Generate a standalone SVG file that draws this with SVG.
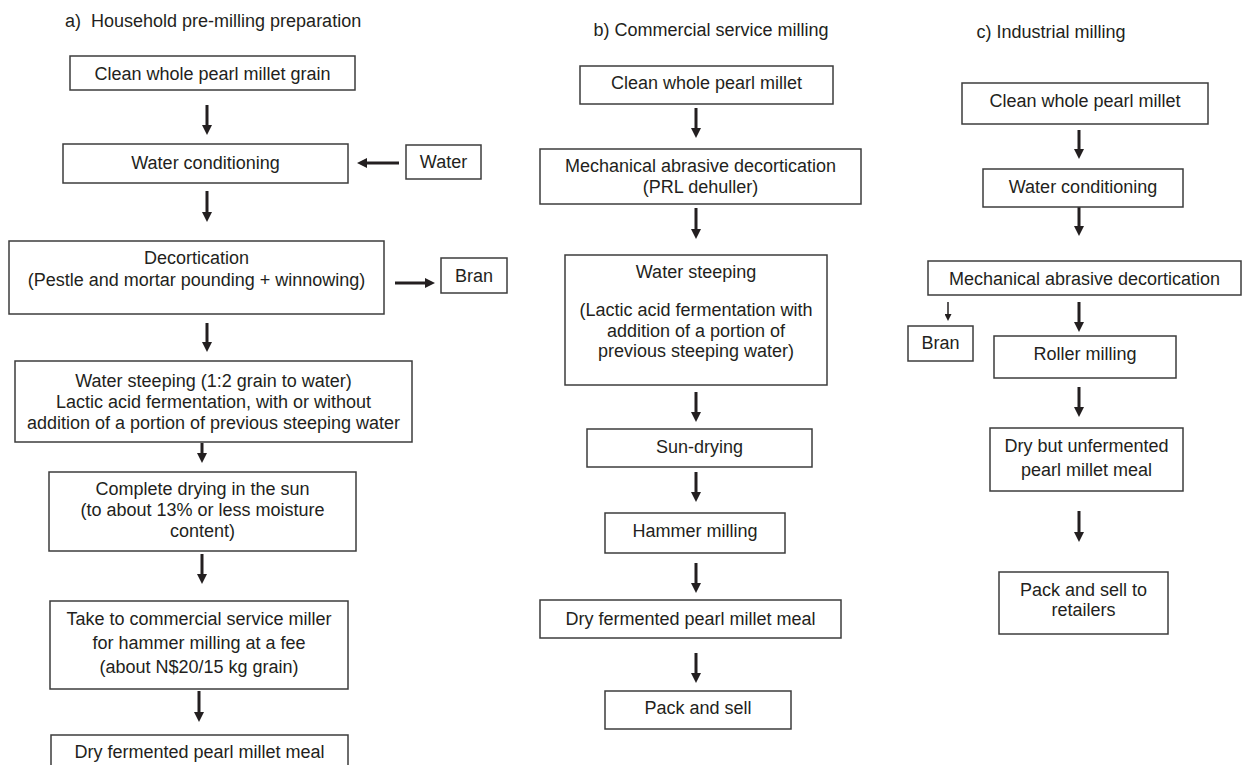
<svg xmlns="http://www.w3.org/2000/svg" width="1242" height="765" viewBox="0 0 1242 765">
<style>
  text{font-family:"Liberation Sans",Arial,sans-serif;font-size:18px;fill:#231f20;text-anchor:middle}
  .t{text-anchor:start}
  rect{fill:#fff;stroke:#3c3c3c;stroke-width:1.5}
  .c line{stroke:#231f20;stroke-width:3}
  .c line.s{stroke-width:1.5}
</style>
<defs>
  <marker id="ah" viewBox="0 0 10 10" markerWidth="10" markerHeight="10" markerUnits="userSpaceOnUse" refX="0" refY="5" orient="auto">
    <path d="M0,0 L10,5 L0,10 z" fill="#231f20"/>
  </marker>
  <marker id="ahs" viewBox="0 0 7 7" markerWidth="7" markerHeight="7" markerUnits="userSpaceOnUse" refX="0" refY="3.5" orient="auto">
    <path d="M0,0 L7,3.5 L0,7 z" fill="#231f20"/>
  </marker>
</defs>
<rect x="0" y="0" width="1242" height="765" style="fill:#fff;stroke:none"/>

<g id="titles">
  <text class="t" x="65" y="27" xml:space="preserve">a)  Household pre-milling preparation</text>
  <text x="711" y="36">b) Commercial service milling</text>
  <text x="1051" y="38">c) Industrial milling</text>
</g>

<g class="c" id="connectors">
  <line x1="207" y1="105" x2="207" y2="125" marker-end="url(#ah)"/>
  <line x1="207" y1="191" x2="207" y2="212" marker-end="url(#ah)"/>
  <line x1="399" y1="163" x2="367" y2="163" marker-end="url(#ah)"/>
  <line x1="395" y1="283" x2="425" y2="283" marker-end="url(#ah)"/>
  <line x1="207" y1="323" x2="207" y2="342" marker-end="url(#ah)"/>
  <line x1="202" y1="443" x2="202" y2="453" marker-end="url(#ah)"/>
  <line x1="202" y1="554" x2="202" y2="574" marker-end="url(#ah)"/>
  <line x1="199" y1="691" x2="199" y2="712" marker-end="url(#ah)"/>

  <line x1="696" y1="108" x2="696" y2="128" marker-end="url(#ah)"/>
  <line x1="696" y1="208" x2="696" y2="229" marker-end="url(#ah)"/>
  <line x1="696" y1="392" x2="696" y2="412" marker-end="url(#ah)"/>
  <line x1="696" y1="472" x2="696" y2="492" marker-end="url(#ah)"/>
  <line x1="696" y1="563" x2="696" y2="583" marker-end="url(#ah)"/>
  <line x1="696" y1="653" x2="696" y2="673" marker-end="url(#ah)"/>

  <line x1="1079" y1="130" x2="1079" y2="149" marker-end="url(#ah)"/>
  <line x1="1079" y1="206" x2="1079" y2="226" marker-end="url(#ah)"/>
  <line x1="1079" y1="302" x2="1079" y2="322" marker-end="url(#ah)"/>
  <line x1="1079" y1="387" x2="1079" y2="407" marker-end="url(#ah)"/>
  <line x1="1079" y1="511" x2="1079" y2="532" marker-end="url(#ah)"/>
  <line class="s" x1="948" y1="302" x2="948" y2="314" marker-end="url(#ahs)"/>
</g>

<g id="a1"><rect x="70" y="56" width="285" height="34"/><text x="212.5" y="80">Clean whole pearl millet grain</text></g>
<g id="a2"><rect x="63" y="144" width="285" height="39"/><text x="205.5" y="169">Water conditioning</text></g>
<g id="a-water"><rect x="406" y="145" width="75" height="34"/><text x="443.5" y="168">Water</text></g>
<g id="a3"><rect x="9" y="241" width="375" height="73"/><text x="196.5" y="264">Decortication</text><text x="196.5" y="286">(Pestle and mortar pounding + winnowing)</text></g>
<g id="a-bran"><rect x="441" y="258" width="66" height="35"/><text x="474" y="282">Bran</text></g>
<g id="a4"><rect x="15" y="361" width="397" height="81"/><text x="213.5" y="387">Water steeping (1:2 grain to water)</text><text x="213.5" y="408">Lactic acid fermentation, with or without</text><text x="213.5" y="429">addition of a portion of previous steeping water</text></g>
<g id="a5"><rect x="49" y="472" width="307" height="79"/><text x="202.5" y="495">Complete drying in the sun</text><text x="202.5" y="516">(to about 13% or less moisture</text><text x="202.5" y="537">content)</text></g>
<g id="a6"><rect x="50" y="601" width="298" height="88"/><text x="199" y="625">Take to commercial service miller</text><text x="199" y="649">for hammer milling at a fee</text><text x="199" y="673">(about N$20/15 kg grain)</text></g>
<g id="a7"><rect x="51" y="735" width="297" height="45"/><text x="199.5" y="758">Dry fermented pearl millet meal</text></g>

<g id="b1"><rect x="580" y="66" width="253" height="38"/><text x="706.5" y="89">Clean whole pearl millet</text></g>
<g id="b2"><rect x="540" y="149" width="321" height="55"/><text x="700.5" y="172">Mechanical abrasive decortication</text><text x="700.5" y="193">(PRL dehuller)</text></g>
<g id="b3"><rect x="565" y="255" width="262" height="130"/><text x="696" y="278">Water steeping</text><text x="696" y="316">(Lactic acid fermentation with</text><text x="696" y="337">addition of a portion of</text><text x="696" y="357">previous steeping water)</text></g>
<g id="b4"><rect x="587" y="429" width="225" height="38"/><text x="699.5" y="453">Sun-drying</text></g>
<g id="b5"><rect x="605" y="513" width="180" height="40"/><text x="695" y="537">Hammer milling</text></g>
<g id="b6"><rect x="540" y="600" width="301" height="38"/><text x="690.5" y="625">Dry fermented pearl millet meal</text></g>
<g id="b7"><rect x="605" y="691" width="186" height="38"/><text x="698" y="714">Pack and sell</text></g>

<g id="c1"><rect x="962" y="83" width="246" height="41"/><text x="1085" y="107">Clean whole pearl millet</text></g>
<g id="c2"><rect x="983" y="169" width="200" height="38"/><text x="1083" y="193">Water conditioning</text></g>
<g id="c3"><rect x="928" y="261" width="313" height="34"/><text x="1084.5" y="285">Mechanical abrasive decortication</text></g>
<g id="c-bran"><rect x="908" y="326" width="65" height="35"/><text x="940.5" y="349">Bran</text></g>
<g id="c4"><rect x="994" y="336" width="182" height="42"/><text x="1085" y="360">Roller milling</text></g>
<g id="c5"><rect x="990" y="428" width="193" height="63"/><text x="1086.5" y="452">Dry but unfermented</text><text x="1086.5" y="476">pearl millet meal</text></g>
<g id="c6"><rect x="999" y="572" width="169" height="62"/><text x="1083.5" y="596">Pack and sell to</text><text x="1083.5" y="616">retailers</text></g>
</svg>
